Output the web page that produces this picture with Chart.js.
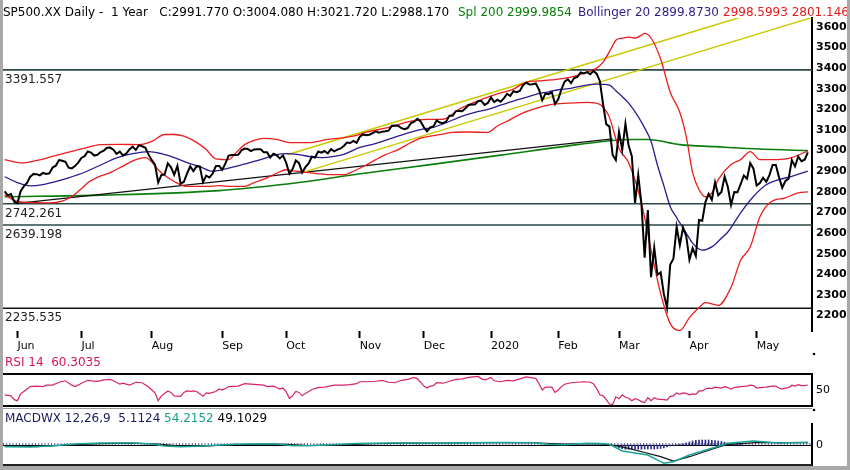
<!DOCTYPE html>
<html><head><meta charset="utf-8">
<script src="https://cdn.jsdelivr.net/npm/chart.js@4.4.1/dist/chart.umd.min.js"></script>
<style>
html,body{margin:0;padding:0;background:#fff;}
#wrap{position:relative;width:850px;height:470px;overflow:hidden;background:#fff;font-family:"DejaVu Sans",sans-serif;}
canvas{position:absolute;left:0;}
.t{position:absolute;font-size:12px;line-height:14px;white-space:pre;}
.fr{position:absolute;background:#a8a8a8;}
</style></head><body>
<div id="wrap">
<canvas id="main" width="850" height="360" style="top:0px;width:850px;height:360px"></canvas>
<canvas id="rsi" width="850" height="62" style="top:350px;width:850px;height:62px"></canvas>
<canvas id="macd" width="850" height="54" style="top:412px;width:850px;height:54px"></canvas>
<div class="t" style="left:3px;top:5px;color:#000">SP500.XX Daily -  1 Year   C:2991.770 O:3004.080 H:3021.720 L:2988.170</div>
<div class="t" style="left:458px;top:5px;color:#0a7d0a">Spl 200 2999.9854</div>
<div class="t" style="left:578px;top:5px;color:#2b1f86">Bollinger 20 2899.8730</div>
<div class="t" style="left:723px;top:5px;color:#e41b1b">2998.5993 2801.146</div>
<div class="t" style="left:5px;top:355px;color:#d4145a">RSI 14  60.3035</div>
<div class="t" style="left:5px;top:411px;"><span style="color:#1c1c5c">MACDWX 12,26,9  5.1124 </span><span style="color:#18a08e">54.2152 </span><span style="color:#000">49.1029</span></div>
<div class="fr" style="left:0;top:0;width:3px;height:470px;"></div>
<div class="fr" style="left:847px;top:0;width:3px;height:470px;"></div>
<div class="fr" style="left:0;top:466px;width:850px;height:4px;"></div>
</div>
<script>
// ---------- data ----------
const monthIdx = [4,24,46,68,88,111,131,152,173,192,214,235];
const monthLabels = ['Jun','Jul','Aug','Sep','Oct','Nov','Dec','2020','Feb','Mar','Apr','May'];
const priceTicks = [2200,2300,2400,2500,2600,2700,2800,2900,3000,3100,3200,3300,3400,3500,3600];
const rsiTicks = [50];
const macdTicks = [0];

const closes = [
2802.39,2783.02,2788.86,2752.06,
2744.45,2803.27,2826.15,2843.49,2873.34,2886.73,2885.72,2879.84,2891.64,2886.98,2889.67,2917.75,2926.46,2954.18,2950.46,2945.35,2917.38,2913.78,2924.92,2941.76,
2964.33,2973.01,2995.82,2990.41,2975.95,2979.63,2993.07,2999.91,3013.77,3014.30,3004.04,2984.42,2995.11,2976.61,2985.03,3005.47,3019.56,3003.67,3025.86,3020.97,3013.18,2980.38,
2953.56,2932.05,2844.74,2881.77,2883.98,2938.09,2918.65,2882.70,2926.32,2840.60,2847.60,2888.68,2923.65,2900.51,2924.43,2922.95,2847.11,2878.38,2869.16,2887.94,2924.58,2926.46,
2906.27,2937.78,2976.00,2978.71,2978.43,2979.39,3000.93,3009.57,3007.39,2997.96,3005.70,3006.73,3006.79,2992.07,2991.78,2966.60,2984.87,2977.62,2961.79,2976.74,
2940.25,2887.61,2910.63,2952.01,2938.79,2893.06,2919.40,2938.13,2970.27,2966.15,2995.68,2989.69,2997.95,2986.20,3006.72,2995.99,3004.52,3010.29,3022.55,3039.42,3036.89,3046.77,3037.56,
3066.91,3078.27,3074.62,3076.78,3085.18,3093.08,3087.01,3091.84,3094.04,3096.63,3120.46,3122.03,3120.18,3108.46,3103.54,3110.29,3133.64,3140.52,3153.63,3140.98,
3113.87,3093.20,3112.76,3117.43,3145.91,3135.96,3132.52,3141.63,3168.57,3168.80,3191.45,3192.52,3191.14,3205.37,3221.22,3224.01,3223.38,3239.91,3240.02,3221.29,3230.78,
3257.85,3234.85,3246.28,3237.18,3253.05,3274.70,3265.35,3288.13,3283.15,3289.29,3316.81,3329.62,3320.79,3321.75,3325.54,3295.47,3243.63,3276.24,3273.40,3283.66,3225.52,
3248.92,3297.59,3334.69,3345.78,3327.71,3352.09,3357.75,3379.45,3373.94,3380.16,3370.29,3386.15,3373.23,3337.75,3225.89,3128.21,3116.39,2978.76,2954.22,
3090.23,3003.37,3130.12,3023.94,2972.37,2746.56,2882.23,2741.38,2480.64,2711.02,2386.13,2529.19,2398.10,2409.39,2304.92,2237.40,2447.33,2475.56,2630.07,2541.47,2626.65,2584.59,
2470.50,2526.90,2488.65,2663.68,2659.41,2749.98,2789.82,2761.63,2846.06,2783.36,2799.55,2874.56,2823.16,2736.56,2799.31,2797.80,2836.74,2878.48,2863.39,2939.51,2912.43,
2830.71,2842.74,2868.44,2848.42,2881.19,2929.80,2930.32,2870.12,2820.00,2852.50,2863.70,2953.91,2922.94,2971.61,2948.51,2955.45,2991.77
];

const bbUpper = [[0,2956],[5,2940],[10,2952],[15,2972],[20,2992],[25,3012],[30,3029],[36,3030],[42,3029],[46,3045],[50,3078],[53,3078],[56,3070],[60,3040],[63,3005],[66,2960],[70,2956],[72,2985],[75,3029],[78,3050],[81,3059],[85,3054],[89,3039],[95,3039],[101,3054],[109,3070],[113,3089],[120,3112],[127,3143],[132,3151],[137,3152],[142,3200],[147,3235],[151,3259],[155,3280],[159,3298],[163,3332],[167,3338],[171,3343],[177,3356],[182,3380],[185,3400],[187,3429],[189,3480],[190,3509],[191,3535],[193,3545],[195,3550],[197,3545],[199,3560],[200,3568],[202,3546],[205,3444],[208,3283],[211,3185],[213,3068],[215,2893],[217,2810],[219,2776],[221,2795],[223,2859],[227,2932],[230,2956],[233,2995],[236,2956],[240,2956],[246,2966],[251,2999]];
const bbMid = [[0,2873],[4,2845],[8,2829],[12,2835],[15,2846],[20,2868],[25,2895],[30,2930],[35,2965],[40,2985],[45,2995],[49,2985],[53,2966],[57,2942],[61,2922],[65,2900],[70,2915],[75,2935],[80,2956],[85,2980],[88,2985],[92,2980],[96,2970],[99,2966],[103,2972],[106,2982],[111,3015],[115,3030],[118,3045],[122,3065],[127,3090],[131,3105],[134,3113],[138,3135],[142,3161],[147,3185],[151,3200],[155,3220],[159,3240],[163,3258],[166,3273],[170,3285],[173,3295],[177,3302],[181,3315],[185,3322],[189,3317],[191,3290],[193,3262],[195,3230],[198,3165],[200,3110],[202,3045],[204,2930],[206,2830],[208,2728],[210,2675],[211,2649],[213,2600],[215,2551],[218,2517],[221,2533],[224,2575],[226,2605],[230,2698],[234,2777],[238,2834],[242,2859],[246,2875],[251,2900]];
const bbLower = [[0,2785],[4,2753],[9,2748],[14,2746],[18,2755],[21,2777],[24,2815],[26,2844],[29,2870],[33,2893],[37,2925],[41,2956],[44,2966],[46,2945],[48,2907],[50,2880],[53,2850],[57,2826],[63,2826],[67,2830],[71,2826],[75,2826],[78,2845],[82,2868],[85,2890],[88,2907],[91,2900],[95,2893],[100,2885],[106,2883],[110,2907],[113,2930],[116,2956],[119,2980],[123,3005],[127,3039],[130,3060],[133,3070],[137,3080],[140,3088],[145,3090],[151,3088],[154,3119],[158,3150],[161,3176],[166,3205],[171,3224],[176,3230],[182,3234],[186,3224],[188,3190],[189,3161],[192,3010],[195,2941],[199,2746],[202,2517],[205,2307],[208,2161],[211,2127],[214,2190],[217,2239],[219,2263],[223,2249],[227,2337],[230,2468],[233,2532],[236,2678],[239,2746],[244,2771],[248,2795],[251,2800]];
const spl200 = [[0,2776],[30,2784],[67,2806],[86,2834],[92,2845],[110,2885],[133,2932],[155,2978],[179,3029],[190,3049],[196,3054],[201,3054],[211,3029],[222,3019],[232,3010],[251,3000]];
const trendBlack = [[4,2744],[190,3057]];
const channelUpper = [[88.3,2980],[229.2,3643]];
const channelLower = [[93,2893],[252.3,3645]];
const levels = [3391.557, 2742.261, 2639.198, 2235.535];

const rsi14 = [[0,40],[2,38],[3,30],[4,28],[5,42],[6,47],[7,52],[8,57],[10,58],[12,57],[13,60],[15,60],[17,66],[19,69],[21,60],[22,57],[23,60],[24,64],[26,70],[27,69],[29,68],[31,71],[33,72],[34,69],[36,62],[37,64],[39,60],[40,63],[41,66],[43,65],[45,56],[46,50],[47,44],[48,28],[49,38],[51,48],[52,45],[53,38],[55,37],[56,45],[57,48],[58,47],[59,48],[60,47],[62,37],[63,44],[64,43],[66,47],[67,52],[68,50],[69,53],[70,57],[73,58],[75,63],[77,62],[79,61],[81,60],[82,57],[84,58],[85,55],[86,52],[87,54],[88,46],[89,33],[90,38],[91,47],[92,45],[93,38],[94,43],[96,51],[98,55],[100,56],[103,60],[106,60],[108,61],[110,63],[111,67],[113,67],[116,68],[118,70],[120,66],[122,65],[124,70],[126,72],[127,74],[128,76],[129,73],[130,66],[131,58],[132,54],[133,58],[134,59],[135,65],[137,64],[139,68],[141,72],[143,73],[145,76],[148,78],[149,73],[150,71],[151,73],[152,76],[153,69],[155,67],[157,70],[159,69],[161,73],[163,77],[165,75],[166,74],[167,63],[168,50],[169,56],[171,56],[172,45],[173,50],[174,57],[175,62],[177,65],[179,66],[181,67],[183,66],[184,63],[185,53],[186,40],[187,38],[188,30],[189,21],[190,20],[191,36],[192,32],[193,40],[194,35],[195,33],[196,28],[197,32],[198,30],[199,26],[200,24],[201,34],[202,28],[203,34],[204,31],[206,30],[207,29],[208,37],[209,38],[210,44],[211,41],[212,44],[213,43],[214,40],[215,42],[216,41],[217,48],[218,48],[219,52],[220,54],[221,53],[222,56],[224,54],[225,57],[226,55],[227,52],[228,55],[230,57],[232,58],[233,60],[234,59],[235,54],[236,55],[238,56],[240,58],[241,58],[242,54],[243,52],[244,54],[245,55],[246,60],[247,58],[248,61],[249,59],[250,59],[251,60.3]];

const macdLine = [[0,-35],[8,-40],[15,-15],[22,20],[30,40],[40,40],[46,20],[50,-20],[55,-35],[60,-25],[66,-5],[72,15],[80,25],[86,15],[90,-15],[95,-15],[102,5],[110,30],[120,40],[130,40],[135,35],[145,45],[155,50],[165,45],[170,15],[175,5],[182,35],[186,30],[189,14],[193,-120],[201,-200],[206,-366],[209,-334],[214,-200],[221,-66],[226,34],[234,80],[242,40],[251,54]];
const macdSignal = [[0,-15],[10,-35],[20,0],[30,28],[40,38],[48,20],[55,-20],[62,-25],[70,0],[80,20],[88,14],[95,-10],[105,0],[115,25],[125,38],[135,38],[150,45],[165,45],[175,20],[185,28],[190,0],[195,-66],[200,-150],[205,-234],[209,-320],[214,-234],[222,-66],[226,14],[235,46],[251,49]];
const macdHist = [[191,-30],[192,-60],[193,-75],[194,-85],[195,-85],[196,-85],[197,-85],[198,-85],[199,-85],[200,-80],[201,-80],[202,-80],[203,-80],[204,-75],[205,-70],[206,-60],[207,-40],[208,-20],[209,-5],[210,5],[211,15],[212,25],[213,40],[214,60],[215,80],[216,95],[217,100],[218,100],[219,100],[220,100],[221,95],[222,90],[223,80],[224,70],[225,55],[226,40],[227,30],[228,20],[229,15],[230,10]];

// ---------- helpers ----------
const X_MIN = -0.5, X_MAX = 252.3;
const FONT = 'DejaVu Sans';
const pts = a => a.map(p => ({x: p[0], y: p[1]}));
function line(data, color, width, smooth) {
  return {type: 'line', data: data, borderColor: color, borderWidth: width, pointRadius: 0,
    tension: 0, cubicInterpolationMode: smooth ? 'monotone' : 'default', fill: false};
}
function xAxis(show) {
  const ax = {type: 'linear', min: X_MIN, max: X_MAX, display: show, offset: false,
    afterBuildTicks: s => { s.ticks = monthIdx.map(v => ({value: v})); },
    ticks: {autoSkip: false, maxRotation: 0, minRotation: 0, align: 'start', padding: 2, color: '#000',
      font: {family: FONT, size: 11}, callback: (v, i) => monthLabels[i]},
    grid: {display: true, offset: false, drawOnChartArea: false, drawTicks: true, tickLength: 7, tickWidth: 2, tickColor: '#000'},
    border: {display: false}};
  if (show) ax.afterFit = s => { s.height = 29; s.paddingLeft = 0; s.paddingRight = 0; };
  return ax;
}
function yAxis(min, max, ticks, bold) {
  return {type: 'linear', position: 'right', min: min, max: max, beginAtZero: false,
    afterBuildTicks: s => { s.ticks = ticks.map(v => ({value: v})); },
    ticks: {padding: 4, color: '#000', font: {family: FONT, size: 11, weight: bold ? 'bold' : 'normal'},
      callback: v => String(v)},
    grid: {display: false, drawTicks: false},
    border: {display: true, color: '#000', width: 2},
    afterFit: s => { s.width = 38; s.paddingTop = 0; s.paddingBottom = 0; }};
}
const common = {responsive: false, animation: false, devicePixelRatio: 1,
  plugins: {legend: {display: false}, tooltip: {enabled: false}, title: {display: false}}};

// ---------- main price chart ----------
const levelLabelPlugin = {
  id: 'levelLabels',
  afterDatasetsDraw(chart) {
    const {ctx, chartArea: a, scales: {y}} = chart;
    ctx.save();
    ctx.font = '12px "' + FONT + '"';
    ctx.fillStyle = '#222';
    ctx.textBaseline = 'alphabetic';
    levels.forEach(v => { ctx.fillText(v.toFixed(3), a.left + 2, y.getPixelForValue(v) + 13); });
    ctx.restore();
  }
};
const mainSets = [
  line(closes.map((v, i) => ({x: i, y: v})), '#000', 2, false),
  line(pts(bbUpper), '#ee1d1d', 1.3, true),
  line(pts(bbLower), '#ee1d1d', 1.3, true),
  line(pts(bbMid), '#2e1a8e', 1.3, true),
  line(pts(channelUpper), '#c9c900', 1.5, false),
  line(pts(channelLower), '#c9c900', 1.5, false),
  line(pts(trendBlack), '#111', 1.2, false),
  line(pts(spl200), '#0a7d0a', 1.6, true)
].concat(levels.map((v, k) => line([{x: X_MIN, y: v}, {x: X_MAX, y: v}], k === 3 ? '#111' : '#2a4848', 1.6, false)));
new Chart(document.getElementById('main'), {
  type: 'line',
  data: {datasets: mainSets},
  options: Object.assign({}, common, {
    layout: {padding: {left: 3, right: 0, top: 18, bottom: 0}},
    scales: {x: xAxis(true), y: yAxis(2125, 3643, priceTicks, true)}
  }),
  plugins: [levelLabelPlugin]
});

// ---------- RSI ----------
const rsiFrame = {
  id: 'rsiFrame',
  afterDraw(chart) {
    const {ctx, chartArea: a} = chart;
    ctx.save();
    ctx.strokeStyle = '#000'; ctx.lineWidth = 2;
    ctx.beginPath();
    ctx.moveTo(a.left - 3, a.top); ctx.lineTo(a.right, a.top);
    ctx.moveTo(a.left - 3, a.bottom); ctx.lineTo(a.right, a.bottom);
    ctx.stroke();
    ctx.strokeStyle = '#9a9a9a'; ctx.lineWidth = 1;
    ctx.beginPath(); ctx.moveTo(a.left - 3, a.bottom + 2.5); ctx.lineTo(a.right, a.bottom + 2.5); ctx.stroke();
    ctx.fillStyle = '#000';
    ctx.beginPath(); ctx.arc(a.right + 2, a.top - 20, 1.3, 0, Math.PI * 2); ctx.fill();
    ctx.beginPath(); ctx.arc(a.right + 2, a.bottom + 4, 1.3, 0, Math.PI * 2); ctx.fill();
    ctx.restore();
  }
};
new Chart(document.getElementById('rsi'), {
  type: 'line',
  data: {datasets: [line(pts(rsi14), '#d6226a', 1.2, false)]},
  options: Object.assign({}, common, {
    layout: {padding: {left: 3, right: 0, top: 24, bottom: 6}},
    scales: {x: xAxis(false), y: yAxis(17, 83, rsiTicks, false)}
  }),
  plugins: [rsiFrame]
});

// ---------- MACD ----------
const macdFrame = {
  id: 'macdFrame',
  beforeDatasetsDraw(chart) {
    const {ctx, chartArea: a, scales: {y}} = chart;
    const y0 = Math.round(y.getPixelForValue(0)) + 0.5;
    ctx.save();
    ctx.strokeStyle = '#000'; ctx.lineWidth = 1;
    ctx.beginPath(); ctx.moveTo(a.left, y0); ctx.lineTo(a.right, y0); ctx.stroke();
    ctx.strokeStyle = '#2a2a7a'; ctx.lineWidth = 1.5; ctx.setLineDash([1, 2.2]);
    ctx.beginPath(); ctx.moveTo(a.left, y0 - 1.5); ctx.lineTo(a.right, y0 - 1.5); ctx.stroke();
    ctx.restore();
  },
  afterDraw(chart) {
    const {ctx, chartArea: a} = chart;
    ctx.save();
    ctx.strokeStyle = '#222'; ctx.lineWidth = 2;
    ctx.beginPath(); ctx.moveTo(a.left - 3, a.bottom); ctx.lineTo(a.right, a.bottom); ctx.stroke();
    ctx.restore();
  }
};
new Chart(document.getElementById('macd'), {
  type: 'line',
  data: {datasets: [
    line(pts(macdLine), '#18a596', 1.5, false),
    line(pts(macdSignal), '#111', 1.2, false),
    {type: 'bar', data: pts(macdHist), backgroundColor: '#2a2a8a', barThickness: 1, borderWidth: 0}
  ]},
  options: Object.assign({}, common, {
    layout: {padding: {left: 3, right: 0, top: 12, bottom: 1}},
    scales: {x: xAxis(false), y: yAxis(-400, 420, macdTicks, false)}
  }),
  plugins: [macdFrame]
});
</script>
</body></html>
